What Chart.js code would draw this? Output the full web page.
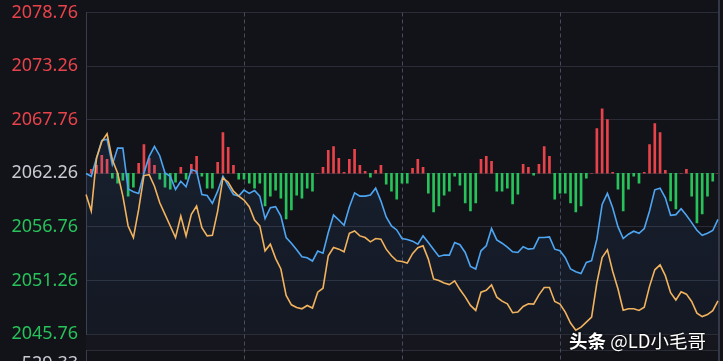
<!DOCTYPE html>
<html>
<head>
  <title>Intraday price chart</title>
  <script src="https://cdn.jsdelivr.net/npm/chart.js@4.4.1/dist/chart.umd.min.js"></script>
  <style>
    html, body {
      margin: 0;
      padding: 0;
      background-color: #121319;
      overflow: hidden;
    }
    .chart-container {
      position: relative;
      width: 723px;
      height: 361px;
    }
    .watermark {
      position: absolute;
      left: 569px;
      top: 327px;
      font-family: "Noto Sans CJK SC", sans-serif;
      font-size: 18.5px;
      color: #ffffff;
      white-space: nowrap;
      text-shadow: 0 0 3px rgba(0,0,0,0.9), 0 0 1px rgba(0,0,0,0.9);
    }
    .watermark b {
      font-weight: 700;
    }
  </style>
</head>
<body>
  <div class="chart-container">
    <canvas id="priceChart"></canvas>
    <div class="watermark"><b>头条</b> @LD小毛哥</div>
  </div>

  <script>
    // y-axis tick labels, centre one is the previous close
    var yTicks = [2045.76, 2051.26, 2056.76, 2062.26, 2067.76, 2073.26, 2078.76];
    var prevClose = 2062.26;
    var lowerPanelLabel = '529.33';

    // minute index for each sample (121 samples)
    var minutes = [];
    for (var m = 0; m <= 120; m++) minutes.push(m);
    var sessionMarks = [30, 60, 90];

    // blue line (average / index line)
    var blueLine = [
      2062.23, 2061.95, 2063.82, 2065.63, 2065.76, 2063.14, 2064.84, 2064.84, 2060.66, 2060.36,
      2060.19, 2062.29, 2063.99, 2065.02, 2064.06, 2062.29, 2061.95, 2060.59, 2061.44, 2060.87,
      2062.63, 2062.46, 2060.08, 2059.98, 2059.17, 2060.42, 2061.95, 2061.00, 2060.08, 2059.91,
      2060.53, 2060.19, 2060.49, 2059.91, 2057.60, 2058.72, 2058.83, 2057.87, 2055.66, 2055.08,
      2054.40, 2053.69, 2053.59, 2053.25, 2054.27, 2054.06, 2056.17, 2057.97, 2057.46, 2056.92,
      2058.79, 2060.25, 2059.91, 2059.91, 2060.02, 2060.73, 2059.40, 2057.77, 2056.85, 2056.44,
      2055.56, 2055.46, 2055.29, 2054.98, 2055.83, 2055.15, 2054.44, 2053.72, 2053.86, 2053.86,
      2055.15, 2054.92, 2054.13, 2052.70, 2052.43, 2054.30, 2054.81, 2056.58, 2055.42, 2055.08,
      2054.68, 2054.20, 2054.13, 2054.71, 2054.47, 2054.54, 2055.66, 2055.66, 2055.73, 2054.47,
      2054.30, 2053.59, 2052.43, 2052.16, 2051.96, 2053.11, 2053.28, 2055.49, 2059.06, 2060.19,
      2058.72, 2056.78, 2055.56, 2056.00, 2056.31, 2056.10, 2056.58, 2058.38, 2060.56, 2060.73,
      2059.74, 2057.94, 2058.01, 2058.62, 2057.94, 2057.19, 2056.41, 2055.90, 2056.10, 2056.38,
      2057.53
    ];

    // orange line (price)
    var orangeLine = [
      2060.08, 2058.38, 2063.82, 2065.52, 2066.31, 2063.65, 2062.29, 2059.91, 2056.85, 2055.66,
      2058.55, 2062.02, 2062.12, 2060.93, 2059.23, 2058.04, 2056.85, 2055.66, 2057.87, 2055.83,
      2058.04, 2058.89, 2056.68, 2055.83, 2055.90, 2058.38, 2061.78, 2061.34, 2060.42, 2059.91,
      2059.51, 2058.83, 2057.46, 2056.85, 2054.30, 2054.98, 2053.52, 2052.43, 2049.71, 2048.76,
      2048.49, 2048.35, 2048.69, 2048.42, 2050.05, 2050.46, 2053.79, 2054.64, 2054.47, 2054.20,
      2056.10, 2056.34, 2055.83, 2055.66, 2055.22, 2055.56, 2055.49, 2054.47, 2053.79, 2053.28,
      2053.21, 2053.04, 2054.00, 2054.61, 2054.81, 2053.45, 2051.41, 2051.24, 2051.00, 2050.83,
      2051.21, 2050.32, 2049.57, 2048.69, 2048.18, 2050.05, 2050.25, 2050.80, 2049.54, 2049.13,
      2048.86, 2047.94, 2048.01, 2048.59, 2048.86, 2048.83, 2049.78, 2050.53, 2050.53, 2049.10,
      2048.83, 2048.00, 2046.88, 2046.14, 2046.47, 2046.98, 2047.50, 2051.00, 2053.60, 2054.40,
      2052.20, 2050.40, 2048.20, 2048.35, 2048.35, 2048.18, 2048.50, 2050.65, 2052.35, 2052.85,
      2051.75, 2050.00, 2049.25, 2050.10, 2049.85, 2049.10, 2047.90, 2047.55, 2047.75, 2048.15,
      2049.15
    ];

    // red / green strength bars around the previous close
    var strengthBars = [
      0, 4, 8, 18, 14, -5, -10, -7, -23, -14,
      10, 29, 15, 8, -6, -14, -16, -9, 6, -6,
      9, 17, -3, -15, -15, 11, 41, 26, 8, -6,
      -6, -10, -15, -10, -33, -23, -17, -25, -46, -37,
      -22, -25, -15, -18, 0, 6, 23, 27, 15, 1,
      14, 24, 8, 2, -4, 3, 8, -11, -18, -26,
      -10, -10, 5, 14, 6, -20, -39, -33, -22, -18,
      -3, -12, -30, -38, -30, 14, 17, 12, -18, -18,
      -15, -31, -21, 9, 6, -2, 9, 27, 17, -26,
      -20, -20, -30, -39, -33, -5, 0, 45, 65, 54,
      1, -16, -38, -16, -3, -10, 1, 29, 50, 41,
      3, -28, -36, 0, 4, -23, -50, -41, -23, -8,
      0
    ];

    var upColor = '#e8434a';
    var downColor = '#27c25a';
    var flatColor = '#c9cad2';

    var barColors = strengthBars.map(function(v) {
      return v >= 0 ? upColor : downColor;
    });

    // dashed session lines, borders and the cut-off lower panel
    var framePlugin = {
      id: 'frame',
      beforeDatasetsDraw: function(chart) {
        var ctx = chart.ctx;
        var area = chart.chartArea;
        var xs = chart.scales.x;
        var h = chart.height;
        ctx.save();

        // lower panel band and its top line
        ctx.fillStyle = '#16171e';
        ctx.fillRect(area.left, area.bottom + 1, area.right - area.left, 15);
        ctx.strokeStyle = '#2a2d37';
        ctx.lineWidth = 1;
        ctx.beginPath();
        ctx.moveTo(area.left, area.bottom + 16.5);
        ctx.lineTo(area.right, area.bottom + 16.5);
        ctx.stroke();

        ctx.strokeStyle = '#464a5a';
        ctx.setLineDash([4, 3]);
        sessionMarks.forEach(function(i) {
          var x = Math.round(xs.getPixelForValue(i)) + 0.5;
          ctx.beginPath();
          ctx.moveTo(x, area.top);
          ctx.lineTo(x, h);
          ctx.stroke();
        });
        ctx.setLineDash([]);

        // right border
        ctx.strokeStyle = '#353846';
        ctx.lineWidth = 2;
        ctx.beginPath();
        ctx.moveTo(area.right + 1, 0);
        ctx.lineTo(area.right + 1, h);
        ctx.stroke();

        // left border continues into the lower panel
        ctx.lineWidth = 1;
        ctx.strokeStyle = '#3a3d48';
        ctx.beginPath();
        ctx.moveTo(area.left + 0.5, area.bottom + 16);
        ctx.lineTo(area.left + 0.5, h);
        ctx.stroke();
        ctx.restore();
      },
      afterDraw: function(chart) {
        var ctx = chart.ctx;
        ctx.save();
        ctx.font = '18px "Noto Sans", sans-serif';
        ctx.fillStyle = flatColor;
        ctx.textAlign = 'right';
        ctx.textBaseline = 'middle';
        ctx.fillText(lowerPanelLabel, 78, chart.chartArea.bottom + 30);
        ctx.restore();
      }
    };

    var ctx = document.getElementById('priceChart').getContext('2d');
    var priceChart = new Chart(ctx, {
      type: 'line',
      data: {
        labels: minutes,
        datasets: [
          {
            label: 'price',
            data: orangeLine,
            borderColor: '#f2b35e',
            borderWidth: 1.6,
            pointRadius: 0,
            tension: 0,
            fill: false,
            order: 0
          },
          {
            label: 'average',
            data: blueLine,
            borderColor: '#4ea6f2',
            borderWidth: 1.6,
            pointRadius: 0,
            tension: 0,
            fill: 'start',
            backgroundColor: function(c) {
              var area = c.chart.chartArea;
              if (!area) return 'rgba(70,140,230,0.08)';
              var g = c.chart.ctx.createLinearGradient(0, area.top, 0, area.bottom);
              g.addColorStop(0, 'rgba(70,140,230,0.15)');
              g.addColorStop(1, 'rgba(70,140,230,0.05)');
              return g;
            },
            order: 1
          },
          {
            type: 'bar',
            label: 'strength',
            data: strengthBars,
            backgroundColor: barColors,
            barThickness: 2,
            yAxisID: 'yb',
            order: 2
          }
        ]
      },
      options: {
        responsive: true,
        maintainAspectRatio: false,
        animation: false,
        layout: {
          padding: { left: 0, right: 5, top: 11, bottom: 27 }
        },
        plugins: {
          legend: { display: false },
          tooltip: { enabled: false }
        },
        scales: {
          x: {
            type: 'category',
            display: false,
            offset: false
          },
          y: {
            position: 'left',
            min: yTicks[0],
            max: yTicks[yTicks.length - 1],
            afterFit: function(scale) {
              scale.width = 86;
            },
            afterBuildTicks: function(scale) {
              scale.ticks = yTicks.map(function(v) { return { value: v }; });
            },
            grid: {
              color: '#2a2d37',
              drawTicks: false
            },
            border: {
              color: '#3a3d48'
            },
            ticks: {
              padding: 8,
              font: { family: '"Noto Sans", sans-serif', size: 18, lineHeight: 0.5 },
              color: function(c) {
                var v = c.tick.value;
                if (v > prevClose + 0.001) return upColor;
                if (v < prevClose - 0.001) return downColor;
                return flatColor;
              },
              callback: function(value) {
                return Number(value).toFixed(2);
              }
            }
          },
          yb: {
            display: false,
            min: -162,
            max: 162
          }
        }
      },
      plugins: [framePlugin]
    });
  </script>
</body>
</html>
